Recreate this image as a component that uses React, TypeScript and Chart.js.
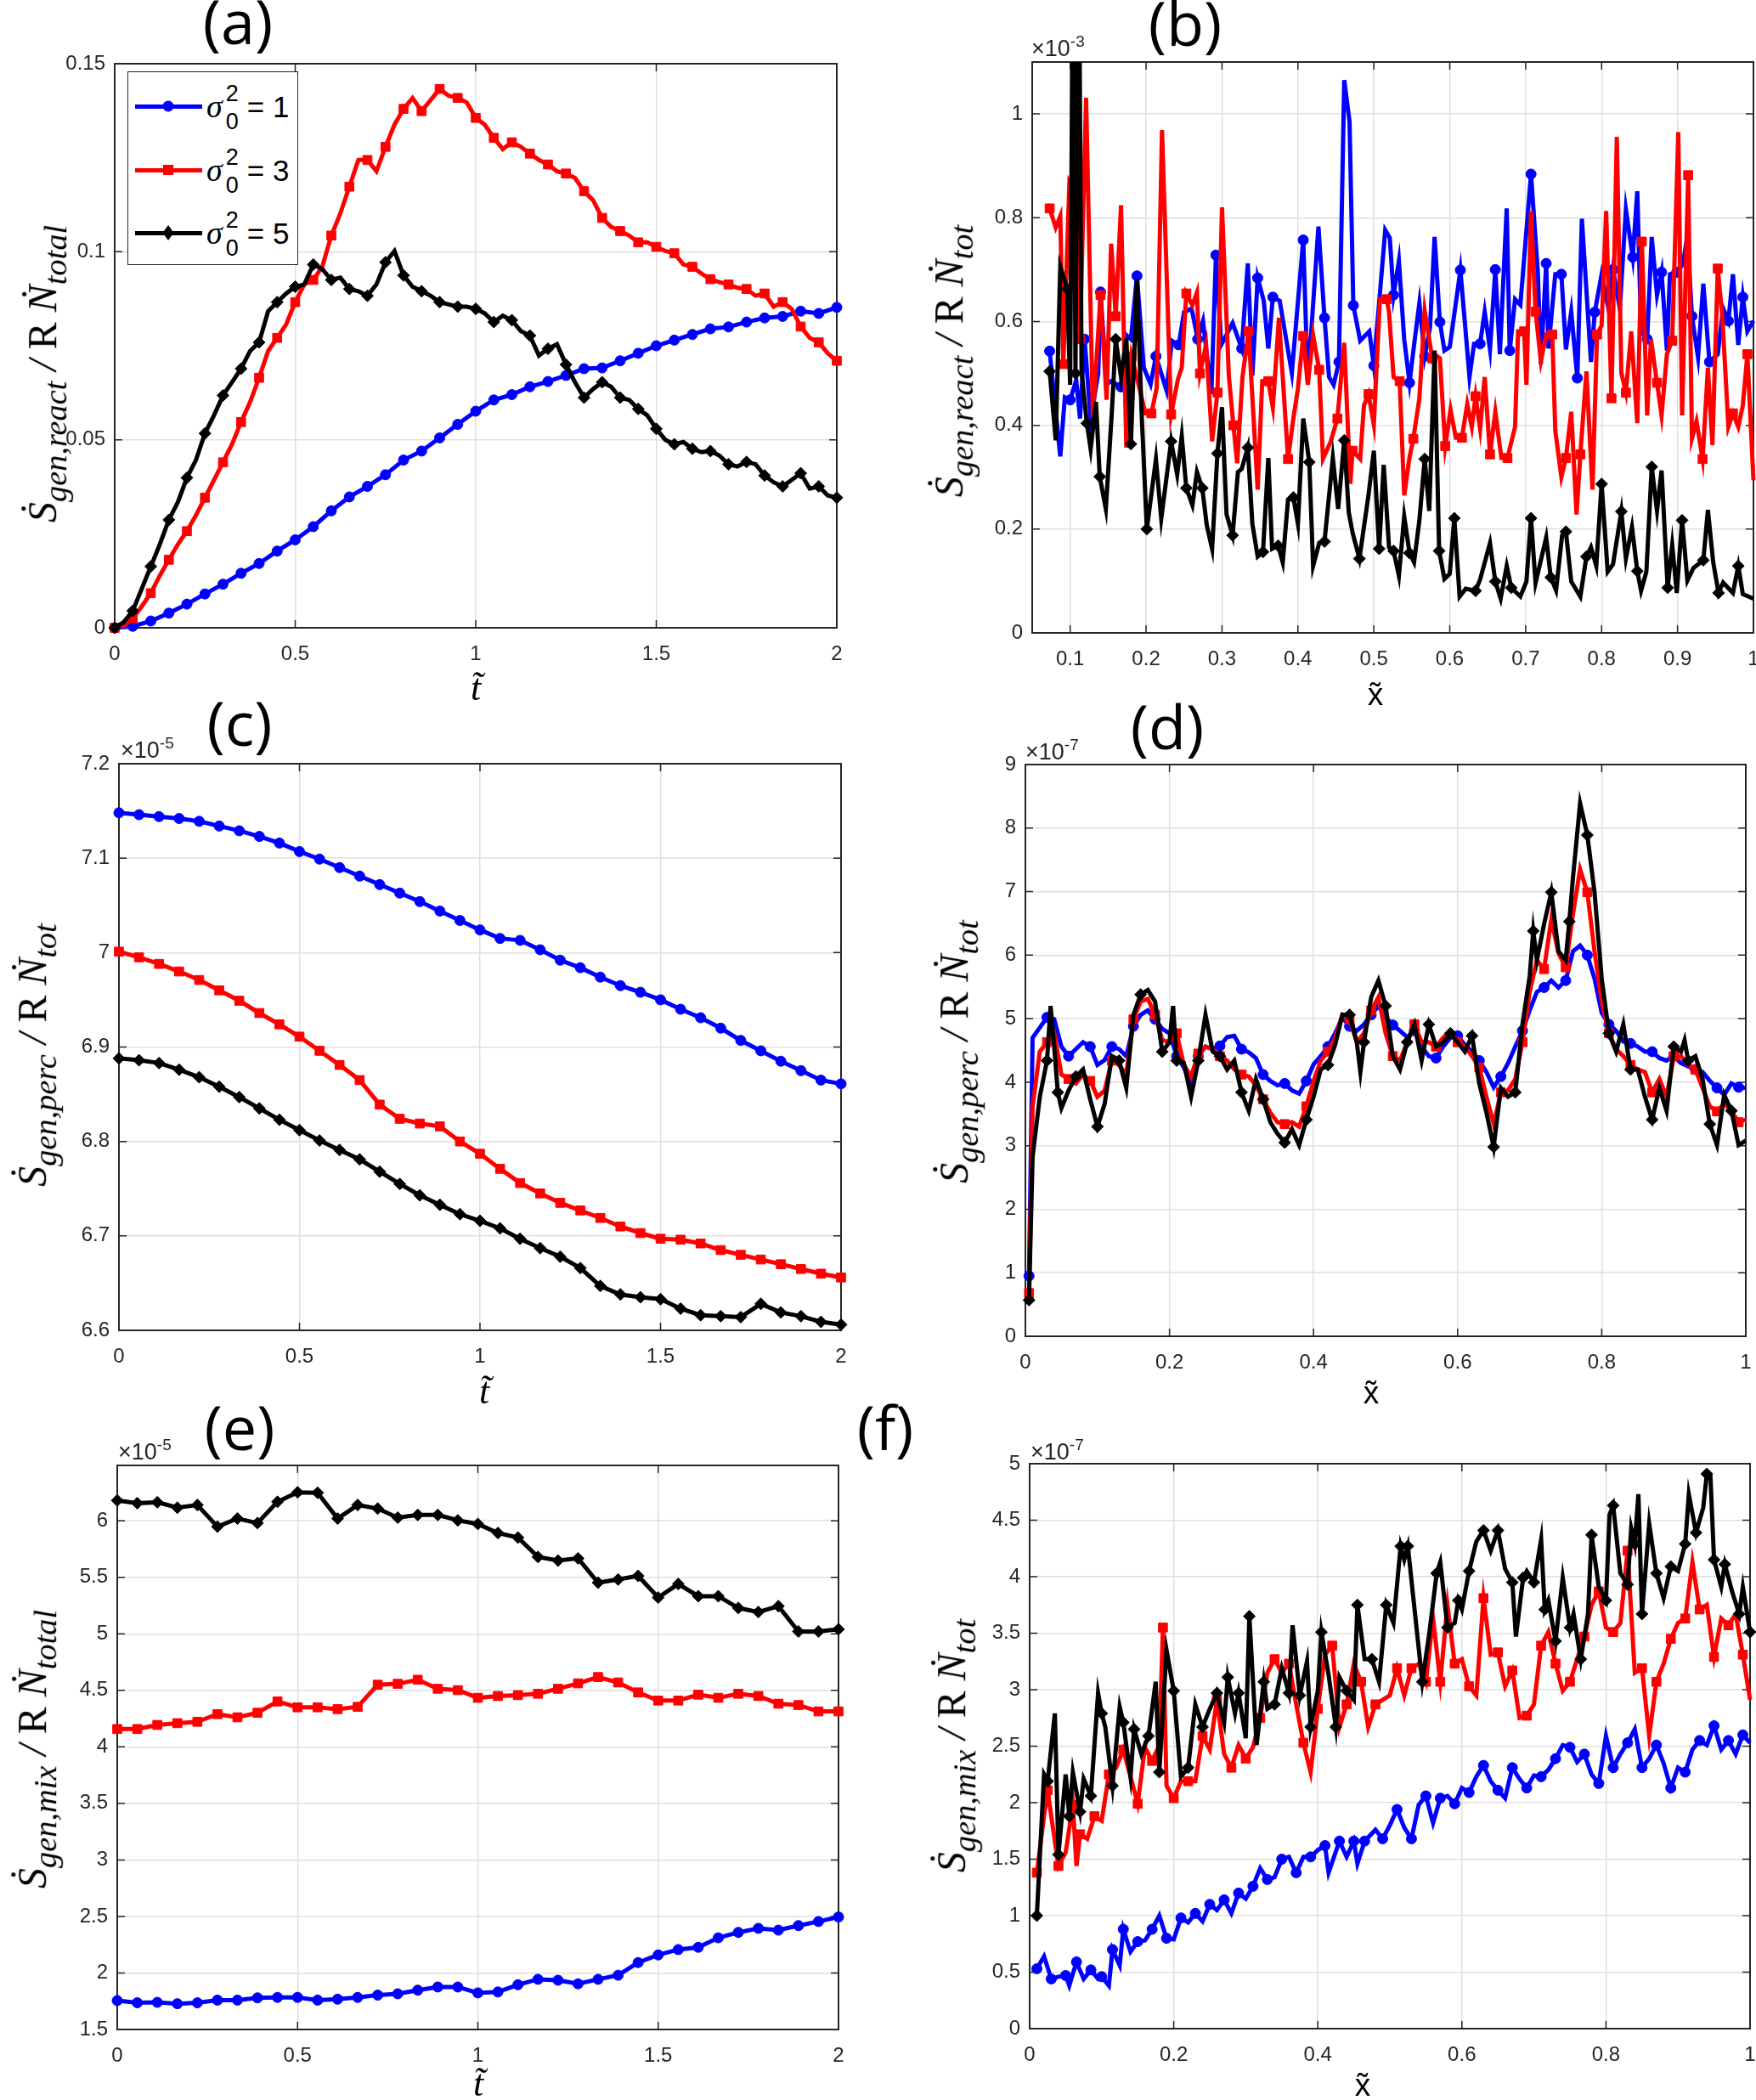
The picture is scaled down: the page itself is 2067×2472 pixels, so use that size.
import { useEffect, useRef } from "react";
import Chart from "chart.js/auto";

const BLUE = "#0000ff";
const RED = "#ff0000";
const BLACK = "#000000";
const AXIS = "#262626";
const GRID = "#dfdfdf";

// ---- panel (a): S_gen,react vs t ----
const aT20 = [0, 0.05, 0.1, 0.15, 0.2, 0.25, 0.3, 0.35, 0.4, 0.45, 0.5, 0.55, 0.6, 0.65, 0.7, 0.75, 0.8, 0.85, 0.9, 0.95, 1, 1.05, 1.1, 1.15, 1.2, 1.25, 1.3, 1.35, 1.4, 1.45, 1.5, 1.55, 1.6, 1.65, 1.7, 1.75, 1.8, 1.85, 1.9, 1.95, 2];
const aT40 = [0, 0.025, 0.05, 0.075, 0.1, 0.125, 0.15, 0.175, 0.2, 0.225, 0.25, 0.275, 0.3, 0.325, 0.35, 0.375, 0.4, 0.425, 0.45, 0.475, 0.5, 0.525, 0.55, 0.575, 0.6, 0.625, 0.65, 0.675, 0.7, 0.725, 0.75, 0.775, 0.8, 0.825, 0.85, 0.875, 0.9, 0.925, 0.95, 0.975, 1, 1.025, 1.05, 1.075, 1.1, 1.125, 1.15, 1.175, 1.2, 1.225, 1.25, 1.275, 1.3, 1.325, 1.35, 1.375, 1.4, 1.425, 1.45, 1.475, 1.5, 1.525, 1.55, 1.575, 1.6, 1.625, 1.65, 1.675, 1.7, 1.725, 1.75, 1.775, 1.8, 1.825, 1.85, 1.875, 1.9, 1.925, 1.95, 1.975, 2];
const aBlue = [0, 0.0004, 0.0018, 0.0039, 0.0063, 0.009, 0.0116, 0.0145, 0.0171, 0.0204, 0.0234, 0.0269, 0.0311, 0.0348, 0.0376, 0.0407, 0.0446, 0.047, 0.0505, 0.0541, 0.0576, 0.0606, 0.062, 0.0641, 0.0655, 0.0671, 0.0689, 0.0691, 0.071, 0.073, 0.075, 0.0765, 0.078, 0.0795, 0.08, 0.0813, 0.0824, 0.0828, 0.0842, 0.0836, 0.0852];
const aRed = [0, 0.0006, 0.0025, 0.0057, 0.0092, 0.0139, 0.0181, 0.0222, 0.0257, 0.0299, 0.0346, 0.0393, 0.044, 0.0488, 0.0547, 0.06, 0.0665, 0.0736, 0.0771, 0.0807, 0.0866, 0.0913, 0.0925, 0.096, 0.1043, 0.1102, 0.1173, 0.1244, 0.1244, 0.1214, 0.1279, 0.1338, 0.138, 0.1409, 0.1374, 0.1403, 0.1433, 0.1415, 0.1409, 0.1397, 0.1356, 0.1338, 0.1303, 0.1273, 0.1291, 0.1279, 0.1261, 0.1244, 0.1232, 0.1214, 0.1208, 0.1196, 0.1161, 0.1137, 0.109, 0.1066, 0.1055, 0.1043, 0.1025, 0.1025, 0.1013, 0.1002, 0.0996, 0.0966, 0.096, 0.0942, 0.0927, 0.0919, 0.0913, 0.0904, 0.0901, 0.0883, 0.0889, 0.0854, 0.0866, 0.0848, 0.0801, 0.0771, 0.0759, 0.073, 0.071];
const aBlack = [0, 0.0015, 0.0045, 0.0104, 0.0163, 0.0222, 0.0287, 0.0334, 0.0399, 0.0446, 0.0517, 0.0565, 0.0618, 0.0653, 0.0689, 0.0736, 0.0759, 0.0842, 0.0866, 0.0889, 0.0907, 0.0913, 0.0966, 0.0954, 0.0925, 0.0931, 0.0901, 0.0895, 0.0883, 0.0913, 0.0972, 0.1002, 0.0937, 0.0907, 0.0895, 0.0883, 0.0866, 0.086, 0.0854, 0.0854, 0.0848, 0.0836, 0.0813, 0.083, 0.0818, 0.0789, 0.0777, 0.0724, 0.0742, 0.0754, 0.07, 0.0653, 0.0612, 0.0635, 0.0653, 0.0641, 0.0612, 0.0606, 0.0582, 0.0565, 0.0529, 0.05, 0.0488, 0.0494, 0.0476, 0.0467, 0.047, 0.0458, 0.0435, 0.0429, 0.0441, 0.0435, 0.0405, 0.0387, 0.0376, 0.0393, 0.0411, 0.037, 0.0376, 0.0352, 0.0346];

// ---- panel (b): S_gen,react vs x, [x, y] pairs ----
const bBlue = [[0.073, 0.543], [0.087, 0.34], [0.093, 0.454], [0.1, 0.449], [0.108, 0.487], [0.113, 0.413], [0.119, 0.566], [0.127, 0.413], [0.137, 0.5], [0.14, 0.657], [0.148, 0.479], [0.154, 0.485], [0.167, 0.474], [0.174, 0.574], [0.18, 0.566], [0.188, 0.688], [0.197, 0.511], [0.206, 0.479], [0.213, 0.533], [0.227, 0.467], [0.234, 0.563], [0.243, 0.555], [0.25, 0.618], [0.26, 0.625], [0.268, 0.566], [0.275, 0.601], [0.286, 0.46], [0.292, 0.728], [0.299, 0.555], [0.314, 0.597], [0.326, 0.548], [0.334, 0.712], [0.34, 0.496], [0.347, 0.684], [0.355, 0.64], [0.361, 0.548], [0.367, 0.647], [0.376, 0.64], [0.392, 0.501], [0.407, 0.757], [0.413, 0.482], [0.427, 0.783], [0.435, 0.607], [0.441, 0.493], [0.447, 0.478], [0.454, 0.522], [0.461, 1.065], [0.468, 0.985], [0.473, 0.631], [0.482, 0.563], [0.494, 0.581], [0.5, 0.515], [0.515, 0.776], [0.521, 0.761], [0.526, 0.651], [0.533, 0.717], [0.54, 0.566], [0.547, 0.482], [0.553, 0.555], [0.56, 0.636], [0.567, 0.533], [0.574, 0.588], [0.58, 0.763], [0.587, 0.599], [0.593, 0.544], [0.6, 0.551], [0.614, 0.699], [0.626, 0.493], [0.632, 0.557], [0.64, 0.557], [0.646, 0.619], [0.653, 0.546], [0.66, 0.7], [0.666, 0.537], [0.675, 0.818], [0.679, 0.544], [0.686, 0.643], [0.693, 0.632], [0.707, 0.884], [0.716, 0.695], [0.72, 0.518], [0.727, 0.712], [0.73, 0.548], [0.739, 0.691], [0.747, 0.691], [0.753, 0.546], [0.76, 0.619], [0.768, 0.491], [0.774, 0.798], [0.786, 0.522], [0.791, 0.618], [0.8, 0.691], [0.809, 0.625], [0.815, 0.7], [0.824, 0.625], [0.832, 0.816], [0.841, 0.724], [0.847, 0.851], [0.852, 0.581], [0.86, 0.566], [0.866, 0.763], [0.873, 0.651], [0.879, 0.695], [0.886, 0.544], [0.89, 0.691], [0.899, 0.695], [0.907, 0.71], [0.913, 0.765], [0.919, 0.61], [0.927, 0.531], [0.934, 0.673], [0.942, 0.522], [0.953, 0.537], [0.96, 0.626], [0.967, 0.601], [0.973, 0.691], [0.98, 0.555], [0.986, 0.647], [0.992, 0.581], [1.0, 0.601]];
const bRed = [[0.073, 0.818], [0.081, 0.781], [0.087, 0.803], [0.091, 0.518], [0.099, 0.868], [0.108, 0.843], [0.113, 0.566], [0.121, 1.031], [0.13, 0.415], [0.14, 0.651], [0.148, 0.449], [0.154, 0.75], [0.16, 0.61], [0.167, 0.824], [0.174, 0.357], [0.181, 0.533], [0.189, 0.485], [0.199, 0.423], [0.207, 0.423], [0.214, 0.472], [0.221, 0.969], [0.233, 0.421], [0.242, 0.489], [0.247, 0.511], [0.253, 0.654], [0.261, 0.631], [0.267, 0.656], [0.271, 0.5], [0.279, 0.555], [0.287, 0.369], [0.294, 0.463], [0.3, 0.82], [0.309, 0.496], [0.315, 0.4], [0.32, 0.327], [0.327, 0.493], [0.335, 0.581], [0.347, 0.276], [0.353, 0.485], [0.361, 0.485], [0.367, 0.434], [0.375, 0.607], [0.387, 0.335], [0.394, 0.413], [0.4, 0.471], [0.407, 0.572], [0.413, 0.478], [0.42, 0.574], [0.428, 0.507], [0.433, 0.335], [0.443, 0.368], [0.452, 0.413], [0.461, 0.559], [0.469, 0.287], [0.472, 0.351], [0.482, 0.335], [0.487, 0.438], [0.493, 0.46], [0.5, 0.401], [0.508, 0.643], [0.517, 0.643], [0.52, 0.618], [0.526, 0.493], [0.534, 0.485], [0.54, 0.265], [0.547, 0.338], [0.552, 0.374], [0.56, 0.452], [0.567, 0.621], [0.577, 0.529], [0.58, 0.537], [0.587, 0.529], [0.594, 0.36], [0.601, 0.43], [0.608, 0.376], [0.616, 0.376], [0.623, 0.441], [0.629, 0.397], [0.634, 0.456], [0.64, 0.393], [0.646, 0.493], [0.653, 0.344], [0.66, 0.426], [0.668, 0.337], [0.676, 0.337], [0.686, 0.397], [0.69, 0.581], [0.698, 0.581], [0.701, 0.478], [0.707, 0.813], [0.713, 0.619], [0.72, 0.524], [0.727, 0.575], [0.735, 0.575], [0.739, 0.39], [0.747, 0.3], [0.753, 0.337], [0.76, 0.426], [0.767, 0.228], [0.772, 0.344], [0.78, 0.504], [0.788, 0.276], [0.794, 0.575], [0.8, 0.592], [0.806, 0.813], [0.813, 0.452], [0.82, 0.956], [0.826, 0.501], [0.832, 0.463], [0.839, 0.581], [0.847, 0.404], [0.853, 0.754], [0.86, 0.419], [0.865, 0.566], [0.873, 0.482], [0.879, 0.419], [0.886, 0.537], [0.893, 0.563], [0.901, 0.965], [0.906, 0.419], [0.914, 0.882], [0.919, 0.375], [0.925, 0.408], [0.933, 0.335], [0.94, 0.511], [0.946, 0.362], [0.953, 0.702], [0.959, 0.61], [0.967, 0.397], [0.973, 0.423], [0.98, 0.397], [0.986, 0.438], [0.992, 0.537], [1.0, 0.294]];
const bBlack = [[0.073, 0.504], [0.081, 0.371], [0.087, 0.706], [0.096, 0.663], [0.1, 0.478], [0.104, 1.4], [0.107, 0.5], [0.111, 1.5], [0.115, 0.504], [0.122, 0.404], [0.127, 0.354], [0.134, 0.445], [0.139, 0.301], [0.147, 0.239], [0.155, 0.428], [0.16, 0.566], [0.167, 0.493], [0.174, 0.568], [0.18, 0.364], [0.188, 0.68], [0.194, 0.428], [0.201, 0.2], [0.213, 0.335], [0.22, 0.22], [0.233, 0.369], [0.241, 0.305], [0.247, 0.379], [0.253, 0.279], [0.261, 0.246], [0.267, 0.31], [0.274, 0.279], [0.28, 0.207], [0.287, 0.162], [0.294, 0.346], [0.3, 0.435], [0.306, 0.228], [0.314, 0.188], [0.321, 0.31], [0.326, 0.316], [0.334, 0.357], [0.34, 0.21], [0.347, 0.147], [0.354, 0.156], [0.361, 0.337], [0.366, 0.162], [0.374, 0.168], [0.38, 0.136], [0.387, 0.257], [0.394, 0.261], [0.4, 0.21], [0.407, 0.413], [0.415, 0.329], [0.42, 0.129], [0.428, 0.173], [0.435, 0.176], [0.446, 0.337], [0.453, 0.239], [0.461, 0.371], [0.467, 0.232], [0.472, 0.193], [0.481, 0.143], [0.493, 0.266], [0.5, 0.351], [0.507, 0.162], [0.513, 0.324], [0.52, 0.165], [0.526, 0.158], [0.533, 0.11], [0.54, 0.224], [0.547, 0.154], [0.553, 0.136], [0.56, 0.217], [0.567, 0.335], [0.573, 0.235], [0.58, 0.544], [0.586, 0.158], [0.593, 0.104], [0.6, 0.114], [0.606, 0.221], [0.613, 0.07], [0.621, 0.085], [0.634, 0.081], [0.64, 0.103], [0.653, 0.173], [0.66, 0.099], [0.667, 0.066], [0.675, 0.129], [0.681, 0.087], [0.693, 0.07], [0.701, 0.099], [0.707, 0.221], [0.713, 0.096], [0.727, 0.184], [0.733, 0.107], [0.74, 0.082], [0.748, 0.188], [0.753, 0.195], [0.76, 0.099], [0.772, 0.07], [0.78, 0.147], [0.786, 0.165], [0.793, 0.129], [0.8, 0.287], [0.808, 0.118], [0.815, 0.132], [0.826, 0.234], [0.832, 0.143], [0.84, 0.204], [0.847, 0.119], [0.852, 0.081], [0.859, 0.118], [0.866, 0.32], [0.873, 0.235], [0.879, 0.313], [0.887, 0.087], [0.893, 0.169], [0.899, 0.077], [0.906, 0.217], [0.913, 0.101], [0.921, 0.125], [0.934, 0.14], [0.94, 0.237], [0.947, 0.136], [0.954, 0.077], [0.96, 0.097], [0.973, 0.077], [0.98, 0.129], [0.986, 0.075], [1.0, 0.066]];

// ---- panels (c) and (e): 37 time samples ----
const tSamples = [0, 0.0556, 0.1111, 0.1667, 0.2222, 0.2778, 0.3333, 0.3889, 0.4444, 0.5, 0.5556, 0.6111, 0.6667, 0.7222, 0.7778, 0.8333, 0.8889, 0.9444, 1, 1.0556, 1.1111, 1.1667, 1.2222, 1.2778, 1.3333, 1.3889, 1.4444, 1.5, 1.5556, 1.6111, 1.6667, 1.7222, 1.7778, 1.8333, 1.8889, 1.9444, 2];
const cBlue = [7.148, 7.146, 7.144, 7.142, 7.139, 7.134, 7.129, 7.123, 7.116, 7.107, 7.099, 7.09, 7.081, 7.072, 7.063, 7.054, 7.044, 7.034, 7.024, 7.015, 7.013, 7.003, 6.992, 6.984, 6.974, 6.965, 6.958, 6.95, 6.94, 6.931, 6.92, 6.907, 6.896, 6.885, 6.875, 6.865, 6.861];
const cRed = [7.001, 6.995, 6.988, 6.98, 6.971, 6.96, 6.949, 6.936, 6.924, 6.911, 6.896, 6.881, 6.865, 6.839, 6.824, 6.819, 6.816, 6.8, 6.787, 6.771, 6.756, 6.745, 6.735, 6.727, 6.719, 6.71, 6.703, 6.697, 6.696, 6.692, 6.685, 6.68, 6.675, 6.67, 6.665, 6.66, 6.656];
const cBlack = [6.888, 6.886, 6.883, 6.876, 6.868, 6.858, 6.847, 6.835, 6.823, 6.812, 6.801, 6.791, 6.781, 6.768, 6.755, 6.743, 6.733, 6.723, 6.716, 6.708, 6.697, 6.687, 6.678, 6.666, 6.647, 6.638, 6.635, 6.633, 6.623, 6.616, 6.615, 6.614, 6.628, 6.619, 6.615, 6.609, 6.606];
const eBlue = [1.756, 1.736, 1.74, 1.728, 1.736, 1.76, 1.76, 1.78, 1.784, 1.784, 1.76, 1.768, 1.784, 1.804, 1.816, 1.848, 1.876, 1.876, 1.824, 1.832, 1.896, 1.944, 1.936, 1.904, 1.944, 1.98, 2.092, 2.16, 2.207, 2.227, 2.311, 2.359, 2.395, 2.379, 2.419, 2.455, 2.495];
const eRed = [4.158, 4.158, 4.194, 4.21, 4.222, 4.29, 4.262, 4.302, 4.402, 4.35, 4.35, 4.334, 4.354, 4.55, 4.558, 4.594, 4.514, 4.502, 4.434, 4.45, 4.458, 4.47, 4.514, 4.562, 4.618, 4.57, 4.482, 4.41, 4.41, 4.462, 4.434, 4.47, 4.45, 4.382, 4.37, 4.314, 4.314];
const eBlack = [6.18, 6.156, 6.164, 6.116, 6.14, 5.948, 6.02, 5.98, 6.168, 6.252, 6.248, 6.02, 6.14, 6.108, 6.028, 6.052, 6.052, 6.004, 5.972, 5.892, 5.852, 5.68, 5.648, 5.668, 5.453, 5.481, 5.513, 5.321, 5.441, 5.333, 5.333, 5.229, 5.193, 5.245, 5.021, 5.021, 5.041];

// ---- panel (d): S_gen,perc vs x ----
const dBlue = [[0.005, 0.95], [0.01, 4.7], [0.02, 4.86], [0.03, 5.02], [0.04, 4.99], [0.05, 4.56], [0.06, 4.41], [0.07, 4.52], [0.08, 4.63], [0.09, 4.56], [0.1, 4.27], [0.11, 4.35], [0.12, 4.56], [0.13, 4.52], [0.14, 4.41], [0.15, 4.88], [0.16, 5.06], [0.17, 5.13], [0.18, 4.99], [0.19, 4.84], [0.2, 4.77], [0.21, 4.41], [0.22, 4.23], [0.23, 3.98], [0.24, 4.41], [0.25, 4.56], [0.26, 4.52], [0.27, 4.57], [0.28, 4.71], [0.29, 4.73], [0.3, 4.52], [0.31, 4.47], [0.32, 4.38], [0.33, 4.12], [0.34, 4.02], [0.35, 3.95], [0.36, 3.98], [0.37, 3.87], [0.38, 3.82], [0.39, 4.02], [0.4, 4.28], [0.41, 4.41], [0.42, 4.56], [0.43, 4.77], [0.44, 5.02], [0.45, 4.88], [0.46, 4.81], [0.47, 4.91], [0.48, 5.06], [0.49, 5.2], [0.5, 5.02], [0.51, 4.9], [0.52, 4.81], [0.53, 4.71], [0.54, 4.81], [0.55, 4.56], [0.56, 4.41], [0.57, 4.38], [0.58, 4.56], [0.59, 4.7], [0.6, 4.73], [0.61, 4.59], [0.62, 4.48], [0.63, 4.34], [0.64, 4.16], [0.65, 3.92], [0.66, 4.09], [0.67, 4.3], [0.68, 4.56], [0.69, 4.81], [0.7, 5.13], [0.71, 5.42], [0.72, 5.49], [0.73, 5.6], [0.74, 5.49], [0.75, 5.6], [0.76, 6.06], [0.77, 6.15], [0.78, 6.0], [0.79, 5.63], [0.8, 5.09], [0.81, 4.91], [0.82, 4.81], [0.83, 4.64], [0.84, 4.61], [0.85, 4.56], [0.86, 4.48], [0.87, 4.48], [0.88, 4.38], [0.89, 4.34], [0.9, 4.41], [0.91, 4.3], [0.92, 4.25], [0.93, 4.2], [0.94, 4.16], [0.95, 4.02], [0.96, 3.91], [0.97, 3.8], [0.98, 3.98], [0.99, 3.92], [1.0, 3.91]];
const dRed = [[0.005, 0.68], [0.01, 3.62], [0.02, 4.48], [0.03, 4.63], [0.04, 4.77], [0.05, 4.12], [0.06, 4.05], [0.07, 3.98], [0.08, 4.12], [0.09, 4.02], [0.1, 3.77], [0.11, 3.87], [0.12, 4.34], [0.13, 4.27], [0.14, 4.12], [0.15, 4.99], [0.16, 5.27], [0.17, 5.31], [0.18, 5.06], [0.19, 4.66], [0.2, 4.63], [0.21, 4.77], [0.22, 4.27], [0.23, 4.09], [0.24, 4.45], [0.25, 4.56], [0.26, 4.52], [0.27, 4.41], [0.28, 4.34], [0.29, 4.2], [0.3, 4.12], [0.31, 4.09], [0.32, 3.95], [0.33, 3.73], [0.34, 3.52], [0.35, 3.37], [0.36, 3.34], [0.37, 3.37], [0.38, 3.3], [0.39, 3.62], [0.4, 4.02], [0.41, 4.34], [0.42, 4.48], [0.43, 4.7], [0.44, 5.06], [0.45, 4.99], [0.46, 4.63], [0.47, 4.77], [0.48, 5.13], [0.49, 5.34], [0.5, 4.77], [0.51, 4.41], [0.52, 4.34], [0.53, 4.63], [0.54, 4.91], [0.55, 4.63], [0.56, 4.63], [0.57, 4.56], [0.58, 4.7], [0.59, 4.81], [0.6, 4.63], [0.61, 4.56], [0.62, 4.41], [0.63, 4.23], [0.64, 3.77], [0.65, 3.34], [0.66, 3.84], [0.67, 3.87], [0.68, 4.05], [0.69, 4.63], [0.7, 5.42], [0.71, 5.92], [0.72, 5.78], [0.73, 6.56], [0.74, 6.03], [0.75, 5.81], [0.76, 6.64], [0.77, 7.35], [0.78, 6.99], [0.79, 6.06], [0.8, 5.27], [0.81, 4.77], [0.82, 4.52], [0.83, 4.41], [0.84, 4.27], [0.85, 4.2], [0.86, 4.16], [0.87, 3.84], [0.88, 4.05], [0.89, 3.77], [0.9, 4.41], [0.91, 4.41], [0.92, 4.27], [0.93, 4.2], [0.94, 3.91], [0.95, 3.62], [0.96, 3.54], [0.97, 3.66], [0.98, 3.55], [0.99, 3.37], [1.0, 3.41]];
const dBlack = [[0.005, 0.57], [0.01, 2.83], [0.02, 3.77], [0.03, 4.34], [0.035, 5.2], [0.04, 4.56], [0.045, 3.84], [0.05, 3.59], [0.06, 3.87], [0.07, 4.09], [0.08, 4.2], [0.09, 3.73], [0.1, 3.3], [0.11, 3.66], [0.12, 4.41], [0.13, 4.34], [0.14, 3.91], [0.15, 5.06], [0.16, 5.38], [0.17, 5.45], [0.18, 5.27], [0.19, 4.48], [0.2, 4.63], [0.205, 5.2], [0.21, 4.34], [0.22, 4.3], [0.23, 3.77], [0.24, 4.34], [0.25, 5.06], [0.26, 4.48], [0.27, 4.41], [0.28, 4.2], [0.29, 4.34], [0.3, 3.84], [0.31, 3.55], [0.32, 4.05], [0.33, 3.73], [0.34, 3.37], [0.35, 3.19], [0.36, 3.05], [0.37, 3.26], [0.38, 3.01], [0.39, 3.41], [0.4, 3.77], [0.41, 4.2], [0.42, 4.27], [0.43, 4.59], [0.44, 5.06], [0.45, 5.06], [0.46, 4.63], [0.465, 4.16], [0.47, 4.63], [0.48, 5.34], [0.49, 5.6], [0.5, 5.2], [0.51, 4.41], [0.52, 4.2], [0.53, 4.63], [0.54, 4.91], [0.55, 4.34], [0.56, 4.91], [0.57, 4.56], [0.58, 4.63], [0.59, 4.77], [0.6, 4.63], [0.61, 4.48], [0.62, 4.73], [0.63, 3.98], [0.64, 3.52], [0.65, 2.98], [0.66, 3.91], [0.67, 3.77], [0.68, 3.84], [0.69, 4.91], [0.7, 5.67], [0.705, 6.38], [0.71, 5.92], [0.72, 6.49], [0.73, 6.99], [0.74, 6.06], [0.75, 5.92], [0.755, 6.53], [0.76, 7.21], [0.77, 8.39], [0.78, 7.89], [0.79, 6.99], [0.8, 5.63], [0.81, 4.77], [0.82, 4.48], [0.83, 4.91], [0.84, 4.2], [0.85, 4.2], [0.86, 3.77], [0.87, 3.41], [0.88, 3.91], [0.89, 3.55], [0.9, 4.56], [0.91, 4.48], [0.915, 4.66], [0.92, 4.34], [0.93, 4.41], [0.94, 4.05], [0.95, 3.34], [0.96, 3.01], [0.97, 3.8], [0.98, 3.55], [0.99, 3.01], [1.0, 3.08]];

// ---- panel (f): S_gen,mix vs x ----
const fBlue = [[0.01, 0.53], [0.02, 0.64], [0.03, 0.44], [0.04, 0.46], [0.05, 0.47], [0.055, 0.38], [0.065, 0.59], [0.075, 0.44], [0.085, 0.52], [0.095, 0.44], [0.1, 0.46], [0.11, 0.38], [0.115, 0.7], [0.125, 0.56], [0.13, 0.88], [0.14, 0.68], [0.15, 0.77], [0.16, 0.78], [0.17, 0.88], [0.18, 1.0], [0.19, 0.8], [0.2, 0.79], [0.21, 0.98], [0.22, 0.94], [0.23, 1.02], [0.24, 0.95], [0.25, 1.1], [0.26, 1.05], [0.27, 1.14], [0.28, 1.02], [0.29, 1.2], [0.3, 1.15], [0.31, 1.26], [0.32, 1.42], [0.33, 1.32], [0.34, 1.34], [0.35, 1.5], [0.36, 1.52], [0.37, 1.38], [0.38, 1.52], [0.39, 1.52], [0.4, 1.58], [0.41, 1.62], [0.415, 1.38], [0.43, 1.66], [0.44, 1.52], [0.45, 1.66], [0.455, 1.46], [0.465, 1.66], [0.48, 1.76], [0.49, 1.68], [0.5, 1.8], [0.51, 1.94], [0.52, 1.78], [0.53, 1.68], [0.54, 1.98], [0.55, 2.06], [0.56, 1.82], [0.57, 2.04], [0.58, 2.06], [0.59, 1.99], [0.6, 2.13], [0.61, 2.09], [0.62, 2.23], [0.63, 2.33], [0.64, 2.19], [0.65, 2.11], [0.66, 2.04], [0.67, 2.31], [0.68, 2.21], [0.69, 2.13], [0.7, 2.24], [0.71, 2.23], [0.72, 2.29], [0.73, 2.39], [0.74, 2.51], [0.75, 2.49], [0.76, 2.36], [0.77, 2.43], [0.78, 2.25], [0.79, 2.17], [0.8, 2.59], [0.81, 2.31], [0.82, 2.43], [0.83, 2.53], [0.84, 2.65], [0.85, 2.31], [0.86, 2.39], [0.87, 2.51], [0.88, 2.35], [0.89, 2.13], [0.9, 2.31], [0.91, 2.27], [0.92, 2.47], [0.93, 2.55], [0.94, 2.51], [0.95, 2.68], [0.96, 2.47], [0.97, 2.55], [0.98, 2.43], [0.99, 2.6], [1.0, 2.53]];
const fRed = [[0.01, 1.38], [0.02, 1.88], [0.025, 2.11], [0.03, 1.88], [0.04, 1.44], [0.05, 1.56], [0.06, 1.98], [0.065, 1.44], [0.07, 1.72], [0.08, 1.68], [0.09, 1.88], [0.1, 1.84], [0.11, 2.25], [0.12, 2.31], [0.13, 2.47], [0.14, 2.23], [0.15, 1.99], [0.16, 2.49], [0.17, 2.37], [0.18, 2.51], [0.185, 3.55], [0.19, 2.15], [0.2, 2.04], [0.21, 2.19], [0.22, 2.19], [0.23, 2.19], [0.24, 2.59], [0.25, 2.47], [0.26, 2.91], [0.27, 2.43], [0.28, 2.31], [0.29, 2.51], [0.3, 2.39], [0.31, 2.49], [0.32, 2.75], [0.33, 3.15], [0.34, 3.27], [0.35, 3.15], [0.36, 3.23], [0.37, 2.87], [0.38, 2.53], [0.39, 2.27], [0.4, 2.83], [0.41, 3.31], [0.42, 3.39], [0.43, 2.67], [0.44, 2.87], [0.45, 3.23], [0.46, 3.07], [0.47, 2.67], [0.48, 2.87], [0.5, 2.95], [0.51, 3.19], [0.52, 2.95], [0.53, 3.19], [0.54, 3.23], [0.55, 3.07], [0.56, 3.63], [0.57, 3.07], [0.58, 3.75], [0.59, 3.23], [0.6, 3.27], [0.61, 3.03], [0.62, 2.95], [0.63, 3.81], [0.64, 3.31], [0.65, 3.33], [0.66, 3.03], [0.67, 3.17], [0.68, 2.75], [0.69, 2.77], [0.7, 2.87], [0.71, 3.39], [0.72, 3.51], [0.73, 3.23], [0.74, 2.99], [0.75, 3.07], [0.76, 3.27], [0.77, 3.47], [0.78, 3.75], [0.79, 3.87], [0.8, 3.55], [0.81, 3.51], [0.82, 3.59], [0.83, 4.23], [0.84, 3.15], [0.85, 3.19], [0.86, 2.59], [0.87, 3.07], [0.88, 3.23], [0.89, 3.45], [0.9, 3.59], [0.91, 3.63], [0.92, 4.13], [0.93, 3.71], [0.94, 3.75], [0.95, 3.29], [0.96, 3.63], [0.97, 3.57], [0.98, 3.67], [0.99, 3.31], [1.0, 2.91]];
const fBlack = [[0.01, 1.0], [0.02, 2.25], [0.025, 2.19], [0.035, 2.79], [0.04, 1.54], [0.05, 2.25], [0.055, 1.88], [0.06, 2.27], [0.07, 1.92], [0.075, 2.21], [0.085, 2.06], [0.095, 2.97], [0.1, 2.79], [0.105, 2.67], [0.115, 2.15], [0.125, 2.85], [0.13, 2.71], [0.14, 2.23], [0.145, 2.65], [0.155, 2.43], [0.165, 2.59], [0.175, 3.07], [0.18, 2.27], [0.19, 3.35], [0.2, 2.99], [0.21, 2.23], [0.22, 2.31], [0.23, 2.87], [0.24, 2.67], [0.25, 2.83], [0.26, 2.97], [0.27, 2.71], [0.275, 3.11], [0.285, 2.79], [0.29, 2.97], [0.3, 2.57], [0.305, 3.65], [0.315, 2.51], [0.325, 3.07], [0.33, 2.83], [0.34, 2.87], [0.35, 3.19], [0.36, 2.97], [0.365, 3.57], [0.375, 2.95], [0.385, 3.25], [0.39, 2.67], [0.4, 2.99], [0.405, 3.51], [0.415, 3.13], [0.425, 2.67], [0.43, 3.11], [0.44, 2.99], [0.45, 2.91], [0.455, 3.75], [0.465, 3.27], [0.475, 3.27], [0.485, 3.07], [0.495, 3.75], [0.505, 3.59], [0.515, 4.27], [0.52, 4.15], [0.525, 4.27], [0.535, 3.67], [0.545, 3.07], [0.555, 3.51], [0.565, 4.03], [0.57, 4.13], [0.58, 3.55], [0.59, 3.59], [0.595, 3.79], [0.6, 3.71], [0.61, 4.05], [0.62, 4.31], [0.63, 4.41], [0.64, 4.23], [0.65, 4.41], [0.66, 4.07], [0.67, 3.95], [0.675, 3.47], [0.685, 3.99], [0.69, 4.05], [0.7, 3.95], [0.71, 4.33], [0.715, 3.71], [0.72, 3.79], [0.73, 3.43], [0.74, 3.99], [0.75, 3.55], [0.755, 3.67], [0.765, 3.27], [0.775, 3.67], [0.78, 4.37], [0.79, 3.91], [0.8, 3.79], [0.805, 4.55], [0.81, 4.63], [0.82, 4.03], [0.83, 3.93], [0.835, 4.43], [0.84, 4.29], [0.845, 4.73], [0.85, 3.67], [0.86, 4.47], [0.87, 4.03], [0.88, 3.81], [0.89, 4.09], [0.9, 4.05], [0.91, 4.29], [0.915, 4.73], [0.925, 4.39], [0.935, 4.61], [0.94, 4.91], [0.945, 4.89], [0.95, 4.15], [0.96, 3.91], [0.965, 4.11], [0.975, 3.87], [0.985, 3.67], [0.99, 3.91], [1.0, 3.51]];

// tick values
const tTicks = [0, 0.5, 1, 1.5, 2];
const xTicksB = [0.1, 0.2, 0.3, 0.4, 0.5, 0.6, 0.7, 0.8, 0.9, 1];
const xTicks01 = [0, 0.2, 0.4, 0.6, 0.8, 1];
const yTicksA = [0, 0.05, 0.1, 0.15];
const yTicksB = [0, 0.2, 0.4, 0.6, 0.8, 1];
const yTicksC = [6.6, 6.7, 6.8, 6.9, 7, 7.1, 7.2];
const yTicksD = [0, 1, 2, 3, 4, 5, 6, 7, 8, 9];
const yTicksE = [1.5, 2, 2.5, 3, 3.5, 4, 4.5, 5, 5.5, 6];
const yTicksF = [0, 0.5, 1, 1.5, 2, 2.5, 3, 3.5, 4, 4.5, 5];

const zip = (xs: number[], ys: number[]) => ys.map((y, i) => [xs[i], y]);

// layout constants (space around each plot area inside its canvas)
const YW = 90;
const XH = 52;
const PT = 16;
const PR = 16;
const TICK_FONT = { family: '"Liberation Sans", Arial, sans-serif', size: 24 };

type Series = { pts: number[][]; color: string; style: string; every: number; radius: number };
type Area = { l: number; t: number; r: number; b: number };

const framePlugin = {
  id: "frame",
  beforeDatasetsDraw(chart: any) {
    const { ctx, chartArea: a, scales } = chart;
    ctx.save();
    ctx.strokeStyle = AXIS;
    ctx.lineWidth = 1.5;
    const len = 9;
    ctx.beginPath();
    for (const t of scales.x.ticks) {
      const px = scales.x.getPixelForValue(t.value);
      ctx.moveTo(px, a.bottom);
      ctx.lineTo(px, a.bottom - len);
      ctx.moveTo(px, a.top);
      ctx.lineTo(px, a.top + len);
    }
    for (const t of scales.y.ticks) {
      const py = scales.y.getPixelForValue(t.value);
      ctx.moveTo(a.left, py);
      ctx.lineTo(a.left + len, py);
      ctx.moveTo(a.right, py);
      ctx.lineTo(a.right - len, py);
    }
    ctx.stroke();
    ctx.lineWidth = 2;
    ctx.strokeRect(a.left, a.top, a.right - a.left, a.bottom - a.top);
    ctx.restore();
  },
};

const fmt = (v: number) => String(Math.round(Number(v) * 1000) / 1000);

function Panel(props: {
  area: Area;
  xMin: number;
  xMax: number;
  yMin: number;
  yMax: number;
  xTicks: number[];
  yTicks: number[];
  series: Series[];
}) {
  const chartRef = useRef<HTMLCanvasElement>(null);
  const { l, t, r, b } = props.area;
  const w = r - l + YW + PR;
  const h = b - t + PT + XH;

  useEffect(() => {
    if (!chartRef.current) return;
    const chart = new Chart(chartRef.current, {
      type: "line",
      data: {
        datasets: props.series.map((s) => ({
          data: s.pts.map(([x, y]) => ({ x, y })),
          borderColor: s.color,
          backgroundColor: s.color,
          borderWidth: 5,
          tension: 0,
          fill: false,
          pointStyle: s.style as any,
          pointBackgroundColor: s.color,
          pointBorderColor: s.color,
          pointBorderWidth: 1,
          pointRadius: (c: any) => (c.dataIndex % s.every === 0 ? s.radius : 0),
          clip: { left: 14, right: 14, top: 0, bottom: 14 } as any,
        })),
      },
      options: {
        responsive: false,
        animation: false,
        devicePixelRatio: 1,
        events: [],
        layout: { padding: { top: PT, right: PR, left: 0, bottom: 0 } },
        plugins: {
          legend: { display: false },
          tooltip: { enabled: false },
        },
        scales: {
          x: {
            type: "linear",
            min: props.xMin,
            max: props.xMax,
            afterBuildTicks: (s: any) => {
              s.ticks = props.xTicks.map((v) => ({ value: v }));
            },
            afterFit: (s: any) => {
              s.height = XH;
              s.paddingLeft = 0;
              s.paddingRight = 0;
            },
            ticks: {
              font: TICK_FONT,
              color: AXIS,
              padding: 17,
              maxRotation: 0,
              autoSkip: false,
              callback: (v: any) => fmt(v),
            },
            grid: { color: GRID, lineWidth: 1.5, drawTicks: false },
            border: { display: false },
          },
          y: {
            type: "linear",
            min: props.yMin,
            max: props.yMax,
            afterBuildTicks: (s: any) => {
              s.ticks = props.yTicks.map((v) => ({ value: v }));
            },
            afterFit: (s: any) => {
              s.width = YW;
              s.paddingTop = 0;
              s.paddingBottom = 0;
            },
            ticks: {
              font: TICK_FONT,
              color: AXIS,
              padding: 11,
              autoSkip: false,
              callback: (v: any) => fmt(v),
            },
            grid: { color: GRID, lineWidth: 1.5, drawTicks: false },
            border: { display: false },
          },
        },
      },
      plugins: [framePlugin],
    });
    return () => chart.destroy();
  }, []);

  return (
    <canvas
      ref={chartRef}
      width={w}
      height={h}
      style={{ position: "absolute", left: l - YW, top: t - PT, width: w, height: h }}
    />
  );
}

function Label(props: { x: number; y: number; size: number; family: string; italic?: boolean; rotate?: boolean; children: any }) {
  return (
    <div
      style={{
        position: "absolute",
        left: props.x,
        top: props.y,
        transform: props.rotate ? "translate(-50%,-50%) rotate(-90deg)" : "translate(-50%,-50%)",
        whiteSpace: "nowrap",
        fontFamily: props.family,
        fontStyle: props.italic ? "italic" : "normal",
        fontSize: props.size,
        lineHeight: 1.2,
        color: "#000",
      }}
    >
      {props.children}
    </div>
  );
}

const SERIF = '"Liberation Serif", "DejaVu Serif", serif';
const SANS = '"Liberation Sans", Arial, sans-serif';
const PANEL_FONT = '"Open Sans", "Liberation Sans", sans-serif';

function YTitle(props: { x: number; y: number; sub: string; tot: string }) {
  const subStyle = { fontSize: "0.8em", verticalAlign: "-0.3em", lineHeight: 0 };
  return (
    <Label x={props.x} y={props.y} size={48} family={SERIF} italic rotate>
      {"\u1E60"}
      <span style={subStyle}>{props.sub}</span>
      {" / "}
      <span style={{ fontStyle: "normal" }}>R</span>
      {" \u1E44"}
      <span style={subStyle}>{props.tot}</span>
    </Label>
  );
}

function Exponent(props: { x: number; y: number; exp: string }) {
  return (
    <div style={{ position: "absolute", left: props.x, top: props.y, fontFamily: SANS, fontSize: 27, color: AXIS, whiteSpace: "nowrap", lineHeight: 1 }}>
      {"\u00D710"}
      <span style={{ fontSize: 19, position: "relative", top: -11 }}>{props.exp}</span>
    </div>
  );
}

function LegendRow(props: { y: number; color: string; kind: string; val: string }) {
  let marker: any;
  if (props.kind === "circle") {
    marker = { width: 13, height: 13, borderRadius: "50%" };
  } else if (props.kind === "rect") {
    marker = { width: 12, height: 12 };
  } else {
    marker = { width: 13, height: 18, clipPath: "polygon(50% 0, 100% 50%, 50% 100%, 0 50%)" };
  }
  return (
    <div style={{ position: "absolute", left: 0, top: props.y, width: "100%", height: 0 }}>
      <div style={{ position: "absolute", left: 8, top: -2.5, width: 79, height: 5, background: props.color }} />
      <div
        style={{
          position: "absolute",
          left: 47,
          top: 0,
          transform: "translate(-50%,-50%)",
          background: props.color,
          ...marker,
        }}
      />
      <div style={{ position: "absolute", left: 92, top: 0, transform: "translateY(-50%)", display: "flex", alignItems: "center", whiteSpace: "nowrap" }}>
        <span style={{ fontFamily: SERIF, fontStyle: "italic", fontSize: 38, lineHeight: 1 }}>{"\u03C3"}</span>
        <span style={{ display: "inline-flex", flexDirection: "column", fontFamily: SANS, fontSize: 27, lineHeight: "33px", marginLeft: 4, marginTop: 4 }}>
          <span>2</span>
          <span>0</span>
        </span>
        <span style={{ fontFamily: SANS, fontSize: 35, marginLeft: 10, lineHeight: 1 }}>{"= " + props.val}</span>
      </div>
    </div>
  );
}

export default function App() {
  const circ = (pts: number[][], every: number): Series => ({ pts, color: BLUE, style: "circle", every, radius: 6 });
  const sq = (pts: number[][], every: number): Series => ({ pts, color: RED, style: "rect", every, radius: 7.5 });
  const dia = (pts: number[][], every: number): Series => ({ pts, color: BLACK, style: "rectRot", every, radius: 7 });

  return (
    <div style={{ position: "absolute", left: 0, top: 0, width: 2067, height: 2472, overflow: "hidden", background: "#fff" }}>
      <Panel
        area={{ l: 135, t: 75, r: 985, b: 739 }}
        xMin={0} xMax={2} yMin={0} yMax={0.15}
        xTicks={tTicks} yTicks={yTicksA}
        series={[dia(zip(aT40, aBlack), 2), sq(zip(aT40, aRed), 2), circ(zip(aT20, aBlue), 1)]}
      />
      <Panel
        area={{ l: 1215, t: 73, r: 2064, b: 745 }}
        xMin={0.05} xMax={1} yMin={0} yMax={1.1}
        xTicks={xTicksB} yTicks={yTicksB}
        series={[dia(bBlack, 3), sq(bRed, 3), circ(bBlue, 3)]}
      />
      <Panel
        area={{ l: 140, t: 899, r: 990, b: 1566 }}
        xMin={0} xMax={2} yMin={6.6} yMax={7.2}
        xTicks={tTicks} yTicks={yTicksC}
        series={[dia(zip(tSamples, cBlack), 1), sq(zip(tSamples, cRed), 1), circ(zip(tSamples, cBlue), 1)]}
      />
      <Panel
        area={{ l: 1207, t: 900, r: 2055, b: 1573 }}
        xMin={0} xMax={1} yMin={0} yMax={9}
        xTicks={xTicks01} yTicks={yTicksD}
        series={[dia(dBlack, 3), sq(dRed, 3), circ(dBlue, 3)]}
      />
      <Panel
        area={{ l: 138, t: 1725, r: 987, b: 2389 }}
        xMin={0} xMax={2} yMin={1.5} yMax={6.49}
        xTicks={tTicks} yTicks={yTicksE}
        series={[dia(zip(tSamples, eBlack), 1), sq(zip(tSamples, eRed), 1), circ(zip(tSamples, eBlue), 1)]}
      />
      <Panel
        area={{ l: 1212, t: 1723, r: 2060, b: 2388 }}
        xMin={0} xMax={1} yMin={0} yMax={5}
        xTicks={xTicks01} yTicks={yTicksF}
        series={[dia(fBlack, 2), sq(fRed, 2), circ(fBlue, 2)]}
      />

      {/* panel letters */}
      <Label x={280} y={24} size={72} family={PANEL_FONT}>(a)</Label>
      <Label x={1395} y={26} size={72} family={PANEL_FONT}>(b)</Label>
      <Label x={282} y={850} size={72} family={PANEL_FONT}>(c)</Label>
      <Label x={1374} y={854} size={72} family={PANEL_FONT}>(d)</Label>
      <Label x={282} y={1679} size={72} family={PANEL_FONT}>(e)</Label>
      <Label x={1042} y={1679} size={72} family={PANEL_FONT}>(f)</Label>

      {/* exponent markers */}
      <Exponent x={1214} y={44} exp="-3" />
      <Exponent x={142} y={870} exp="-5" />
      <Exponent x={1207} y={872} exp="-7" />
      <Exponent x={139} y={1696} exp="-5" />
      <Exponent x={1213} y={1696} exp="-7" />

      {/* y axis titles */}
      <YTitle x={50} y={440} sub="gen,react" tot="total" />
      <YTitle x={1117} y={425} sub="gen,react" tot="tot" />
      <YTitle x={38} y={1242} sub="gen,perc" tot="tot" />
      <YTitle x={1123} y={1238} sub="gen,perc" tot="tot" />
      <YTitle x={38} y={2059} sub="gen,mix" tot="total" />
      <YTitle x={1120} y={2055} sub="gen,mix" tot="tot" />

      {/* x axis titles */}
      <Label x={560} y={810} size={44} family={SERIF} italic>{"t\u0303"}</Label>
      <Label x={570} y={1638} size={44} family={SERIF} italic>{"t\u0303"}</Label>
      <Label x={563} y={2453} size={44} family={SERIF} italic>{"t\u0303"}</Label>
      <Label x={1619} y={818} size={37} family={SANS}>{"x\u0303"}</Label>
      <Label x={1614} y={1640} size={37} family={SANS}>{"x\u0303"}</Label>
      <Label x={1604} y={2455} size={37} family={SANS}>{"x\u0303"}</Label>

      {/* legend of panel (a) */}
      <div style={{ position: "absolute", left: 150, top: 84, width: 201, height: 228, border: `1.5px solid ${AXIS}`, background: "#fff", boxSizing: "border-box" }}>
        <LegendRow y={40} color={BLUE} kind="circle" val="1" />
        <LegendRow y={115} color={RED} kind="rect" val="3" />
        <LegendRow y={189} color={BLACK} kind="diamond" val="5" />
      </div>
    </div>
  );
}
